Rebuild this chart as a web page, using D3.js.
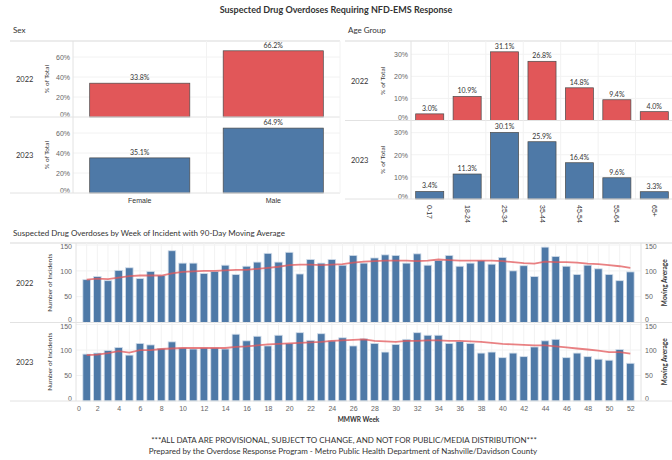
<!DOCTYPE html>
<html>
<head>
<meta charset="utf-8">
<script src="https://cdn.jsdelivr.net/npm/d3@7"></script>
<style>
  body { margin: 0; background: #fff; }
  svg { display: block; font-family: Lato, "Open Sans", sans-serif; }
</style>
</head>
<body>
<svg id="chart" width="672" height="460"></svg>
<script>
// ─── Data ───────────────────────────────────────────────────
const years = ["2022", "2023"];

const sexCategories = ["Female", "Male"];
const sexShare2022 = [33.8, 66.2];
const sexShare2023 = [35.1, 64.9];
const sexTicks = [0, 20, 40, 60];

const ageGroups = ["0-17", "18-24", "25-34", "35-44", "45-54", "55-64", "65+"];
const ageShare2022 = [3.0, 10.9, 31.1, 26.8, 14.8, 9.4, 4.0];
const ageShare2023 = [3.4, 11.3, 30.1, 25.9, 16.4, 9.6, 3.3];
const ageTicks = [0, 10, 20, 30];

const weeks = [1, 2, 3, 4, 5, 6, 7, 8, 9, 10, 11, 12, 13, 14, 15, 16, 17, 18, 19, 20, 21, 22, 23, 24, 25, 26,
  27, 28, 29, 30, 31, 32, 33, 34, 35, 36, 37, 38, 39, 40, 41, 42, 43, 44, 45, 46, 47, 48, 49, 50, 51, 52];
const incidents2022 = [83, 89, 81, 101, 106, 85, 99, 91, 139, 115, 115, 95, 99, 111, 93, 109, 117, 134, 117, 136,
  94, 122, 115, 122, 111, 130, 115, 125, 131, 130, 115, 133, 111, 120, 130, 109, 115, 120, 113, 126,
  100, 110, 89, 146, 128, 109, 93, 111, 104, 93, 81, 98];
const movingAvg2022 = [83, 85, 84, 87, 90, 91, 91, 91, 95, 98, 99, 100, 100, 101, 102, 102, 104, 106, 108, 111,
  112, 112, 111, 112, 113, 116, 118, 119, 120, 120, 120, 119, 120, 122, 121, 120, 120, 120, 120, 119,
  117, 115, 114, 118, 117, 117, 116, 114, 113, 111, 109, 106];
const incidents2023 = [92, 94, 99, 105, 90, 113, 110, 103, 116, 104, 102, 104, 104, 102, 131, 118, 127, 108, 129, 113,
  134, 119, 132, 118, 124, 108, 122, 113, 96, 111, 121, 134, 129, 129, 113, 117, 113, 94, 96, 85,
  94, 87, 106, 118, 121, 85, 94, 87, 82, 80, 101, 74];
const movingAvg2023 = [90, 91, 94, 98, 95, 100, 100, 102, 103, 104, 104, 104, 104, 104, 106, 107, 109, 111, 112, 113,
  114, 115, 116, 118, 119, 120, 121, 118, 117, 116, 118, 118, 119, 119, 118, 118, 117, 116, 114, 112,
  111, 110, 109, 109, 107, 105, 103, 101, 99, 96, 96, 93];
const countTicks = [0, 50, 100, 150];
const weekTicks = [0, 2, 4, 6, 8, 10, 12, 14, 16, 18, 20, 22, 24, 26, 28, 30, 32, 34, 36, 38, 40, 42, 44, 46, 48, 50, 52];

// ─── Style ──────────────────────────────────────────────────
const ink = "#333";
const tickInk = "#666";
const rule = "#e2e2e2";
const grid = "#f2f2f2";
const red = "#e15759";
const blue = "#4e79a7";

const svg = d3.select("#chart");

function text(x, y, str, size, opts = {}) {
  const t = svg.append("text")
    .attr("x", x).attr("y", y)
    .attr("font-size", size)
    .attr("fill", opts.fill || ink)
    .attr("text-anchor", opts.anchor || "start")
    .attr("font-weight", opts.bold ? "bold" : null)
    .text(str);
  if (opts.rotate) t.attr("transform", `rotate(${opts.rotate},${x},${y})`);
  return t;
}

function hline(x1, x2, y, color, w = 1) {
  svg.append("line").attr("x1", x1).attr("x2", x2).attr("y1", y).attr("y2", y)
    .attr("stroke", color).attr("stroke-width", w);
}

function vline(x, y1, y2, color, w = 1) {
  svg.append("line").attr("x1", x).attr("x2", x).attr("y1", y1).attr("y2", y2)
    .attr("stroke", color).attr("stroke-width", w);
}

// Tableau nudges the end labels of an axis inward
function styleAxis(g, max) {
  g.select(".domain").remove();
  g.selectAll("text").attr("font-size", 7).attr("fill", tickInk).attr("font-family", null);
  g.selectAll(".tick").filter((d) => d === 0).select("text").attr("dy", "-0.1em");
  g.selectAll(".tick").filter((d) => d === max).select("text").attr("dy", "0.55em");
}

// ─── Titles ─────────────────────────────────────────────────
text(336, 13, "Suspected Drug Overdoses Requiring NFD-EMS Response", 9, { anchor: "middle", bold: true });
text(13, 33, "Sex", 8);
text(348, 33, "Age Group", 8);

// ─── Share panels (% of Total) ──────────────────────────────
function sharePanel({ left, x0, x1, cats, rows, ticks, max, rotateLabels }) {
  const x = d3.scaleBand().domain(cats).range([x0, x1]).paddingInner(0.25).paddingOuter(0.125);
  const top = rows[0].top;
  const bottom = rows[rows.length - 1].bottom;

  hline(left, x1, top, "#e6e6e6", 1.5);

  rows.forEach((row) => {
    const y = d3.scaleLinear().domain([0, row.max]).range([row.bottom, row.top]);
    const data = cats.map((c, i) => ({ cat: c, value: row.values[i] }));

    ticks.filter((t) => t > 0).forEach((t) => hline(x0, x1, y(t), grid));
    cats.forEach((c, i) => { if (i > 0) vline(x(c) - x.step() * x.paddingInner() / 2, row.top, row.bottom, grid); });

    const axis = svg.append("g").attr("transform", `translate(${x0 - 3},0)`)
      .call(d3.axisLeft(y).tickValues(ticks).tickSize(0).tickPadding(0).tickFormat((d) => d + "%"));
    styleAxis(axis, -1);

    svg.append("g").selectAll("rect").data(data).enter().append("rect")
      .attr("x", (d) => x(d.cat))
      .attr("y", (d) => y(d.value))
      .attr("width", x.bandwidth())
      .attr("height", (d) => y(0) - y(d.value))
      .attr("fill", row.color)
      .attr("stroke", "#4a4a4a")
      .attr("stroke-width", 0.7);

    svg.append("g").selectAll("text").data(data).enter().append("text")
      .attr("x", (d) => x(d.cat) + x.bandwidth() / 2)
      .attr("y", (d) => y(d.value) - 3)
      .attr("text-anchor", "middle")
      .attr("font-size", 7)
      .attr("fill", ink)
      .text((d) => d.value.toFixed(1) + "%");

    const mid = (row.top + row.bottom) / 2;
    text(left + 6, mid + 3, row.year, 7.5);
    text(row.titleX, mid, "% of Total", 6.5, { anchor: "middle", rotate: -90, fill: ink }).attr("dy", "0.35em");
    hline(left, x1, row.bottom, rule);
  });

  vline(x0, top, bottom, rule);
  vline(x1, top, bottom, grid);

  const catAxis = svg.append("g").attr("transform", `translate(0,${bottom + 2})`)
    .call(d3.axisBottom(x).tickSize(0).tickPadding(3));
  catAxis.select(".domain").remove();
  catAxis.selectAll("text").attr("font-size", 7).attr("fill", ink).attr("font-family", null);
  if (rotateLabels) {
    catAxis.selectAll("text")
      .attr("transform", "rotate(90)")
      .attr("text-anchor", "start")
      .attr("x", 4).attr("y", 0).attr("dy", "0.35em");
  }
}

sharePanel({
  left: 10, x0: 73, x1: 340, cats: sexCategories, ticks: sexTicks,
  rows: [
    { year: years[0], values: sexShare2022, color: red, top: 41, bottom: 117, max: 76, titleX: 47 },
    { year: years[1], values: sexShare2023, color: blue, top: 117, bottom: 193, max: 76, titleX: 47 },
  ],
});

sharePanel({
  left: 345, x0: 411, x1: 673, cats: ageGroups, ticks: ageTicks, rotateLabels: true,
  rows: [
    { year: years[0], values: ageShare2022, color: red, top: 41, bottom: 120.5, max: 36, titleX: 383 },
    { year: years[1], values: ageShare2023, color: blue, top: 120.5, bottom: 199, max: 35.5, titleX: 383 },
  ],
});

// ─── Weekly panels ──────────────────────────────────────────
text(13, 236, "Suspected Drug Overdoses by Week of Incident with 90-Day Moving Average", 8);

const wx = d3.scaleLinear().domain([0, 53]).range([76, 641]);
const barW = 7.6;
const weekRows = [
  { year: years[0], counts: incidents2022, avg: movingAvg2022, top: 243, bottom: 322.5 },
  { year: years[1], counts: incidents2023, avg: movingAvg2023, top: 322.5, bottom: 401 },
];

hline(10, 672, 243, "#e6e6e6", 1.5);

weekRows.forEach((row) => {
  const y = d3.scaleLinear().domain([0, 154]).range([row.bottom, row.top]);
  const data = weeks.map((w, i) => ({ week: w, count: row.counts[i], avg: row.avg[i] }));

  weeks.forEach((w) => vline(wx(w), row.top, row.bottom, grid));
  countTicks.filter((t) => t > 0).forEach((t) => hline(76, 641, y(t), grid));

  svg.append("g").selectAll("rect").data(data).enter().append("rect")
    .attr("x", (d) => wx(d.week) - barW / 2)
    .attr("y", (d) => y(d.count))
    .attr("width", barW)
    .attr("height", (d) => y(0) - y(d.count))
    .attr("fill", blue)
    .attr("stroke", "#d3deea")
    .attr("stroke-width", 0.8);

  const line = d3.line().x((d) => wx(d.week)).y((d) => y(d.avg));
  svg.append("path").datum(data)
    .attr("d", line)
    .attr("fill", "none")
    .attr("stroke", red)
    .attr("stroke-opacity", 0.75)
    .attr("stroke-width", 1.8);

  const leftAxis = svg.append("g").attr("transform", "translate(72,0)")
    .call(d3.axisLeft(y).tickValues(countTicks).tickSize(0).tickPadding(0));
  styleAxis(leftAxis, 150);
  const rightAxis = svg.append("g").attr("transform", "translate(645,0)")
    .call(d3.axisRight(y).tickValues(countTicks).tickSize(0).tickPadding(0));
  styleAxis(rightAxis, 150);

  const mid = (row.top + row.bottom) / 2;
  text(16, mid + 3, row.year, 7.5);
  text(50, mid, "Number of Incidents", 6.5, { anchor: "middle", rotate: -90 }).attr("dy", "0.35em");
  text(665, mid, "Moving Average", 6.5, { anchor: "middle", rotate: -90, bold: true }).attr("dy", "0.35em");
  hline(10, 672, row.bottom, rule);
});

vline(76, 243, 401, rule);
vline(641, 243, 401, rule);

const weekAxis = svg.append("g").attr("transform", "translate(0,401)")
  .call(d3.axisBottom(wx).tickValues(weekTicks).tickSize(0).tickPadding(5));
weekAxis.select(".domain").remove();
weekAxis.selectAll("text").attr("font-size", 7).attr("fill", tickInk).attr("font-family", null);
weekAxis.selectAll(".tick").filter((d) => d === 0).select("text").attr("dx", "0.35em");

text(358.5, 422, "MMWR Week", 6.5, { anchor: "middle", bold: true });

// ─── Footer ─────────────────────────────────────────────────
text(344, 443, "***ALL DATA ARE PROVISIONAL, SUBJECT TO CHANGE, AND NOT FOR PUBLIC/MEDIA DISTRIBUTION***", 8, { anchor: "middle" });
text(343, 454, "Prepared by the Overdose Response Program - Metro Public Health Department of Nashville/Davidson County", 8, { anchor: "middle" });
</script>
</body>
</html>
